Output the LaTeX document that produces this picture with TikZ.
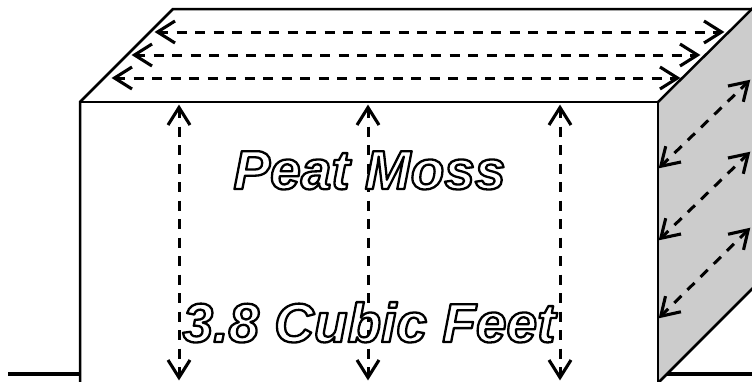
\documentclass[tikz,border=0pt]{standalone}
\usepackage{fontspec}
\setmainfont{Liberation Sans}
\usetikzlibrary{arrows.meta}
\newcommand{\hollowtext}[1]{\special{pdf:code q 2 Tr 2.3 w 0 0 0 RG 1 1 1 rg 1 j}#1\special{pdf:code Q}}
\pgfdeclarearrow{
  name=VeeBarb,
  setup code={
    \pgfarrowssettipend{0pt}
    \pgfarrowssetlineend{-3pt}
    \pgfarrowssetbackend{-20pt}
    \pgfarrowssetvisualbackend{-3pt}
    \pgfarrowshullpoint{0pt}{0pt}
    \pgfarrowshullpoint{-20pt}{11pt}
    \pgfarrowshullpoint{-20pt}{-11pt}
  },
  drawing code={
    \pgfsetdash{}{0pt}
    \pgfsetlinewidth{3.1pt}
    \pgfsetbuttcap
    \pgfsetmiterjoin
    \pgfpathmoveto{\pgfpoint{-20pt}{11pt}}
    \pgfpathlineto{\pgfpoint{-2.5pt}{0pt}}
    \pgfpathlineto{\pgfpoint{-20pt}{-11pt}}
    \pgfusepathqstroke
  },
}
\tikzset{
  x=1pt,y=-1pt,
  edge/.style={draw=black,line width=2.5pt,line join=miter},
  ground/.style={draw=black,line width=4pt},
  measure/.style={draw=black,line width=3pt,dash pattern=on 10pt off 8.5pt,
    {VeeBarb}-{VeeBarb}},
  hollow/.style={font=\fontsize{55}{55}\selectfont\bfseries\itshape,inner sep=0pt,anchor=base},
}
\begin{document}
\begin{tikzpicture}
\path[use as bounding box] (0,0) rectangle (752,381);
\clip (0,0) rectangle (752,381);
% box corners
\coordinate (fl) at (80,102);
\coordinate (fr) at (658,102);
\coordinate (bl) at (173,9);
\coordinate (br) at (752,9);
\coordinate (flb) at (80,383);
\coordinate (frb) at (658,383);
\coordinate (brb) at (754,287);
\coordinate (brt) at (754,7);
\coordinate (gl0) at (8,373.5);
\coordinate (gl1) at (80,373.5);
\coordinate (gr0) at (667,373.5);
\coordinate (gr1) at (752,373.5);
% faces
\path[fill=white] (fl) -- (bl) -- (br) -- (fr) -- cycle;
\path[fill=black!20] (fr) -- (br) -- (brb) -- (frb) -- cycle;
\draw[edge] (flb) -- (fl) -- (bl) -- (br);
\draw[edge] (fl) -- (fr) -- (frb);
\draw[edge] (fr) -- (brt);
\draw[edge] (frb) -- (brb);
\draw[ground] (gl0) -- (gl1);
\draw[ground] (gr0) -- (gr1);
% top arrows
\coordinate (t1a) at (155,32); \coordinate (t1b) at (724,32);
\coordinate (t2a) at (132,55); \coordinate (t2b) at (700,55);
\coordinate (t3a) at (112,78); \coordinate (t3b) at (680,78);
\draw[measure] (t1a) -- (t1b);
\draw[measure] (t2a) -- (t2b);
\draw[measure] (t3a) -- (t3b);
% front arrows
\coordinate (f1a) at (179,105); \coordinate (f1b) at (179,380);
\coordinate (f2a) at (368,105); \coordinate (f2b) at (368,380);
\coordinate (f3a) at (560,105); \coordinate (f3b) at (560,380);
\draw[measure] (f1a) -- (f1b);
\draw[measure] (f2a) -- (f2b);
\draw[measure] (f3a) -- (f3b);
% side arrows
\coordinate (s1a) at (659,168); \coordinate (s1b) at (750,80);
\coordinate (s2a) at (659,240); \coordinate (s2b) at (750,152);
\coordinate (s3a) at (659,318); \coordinate (s3b) at (750,228);
\draw[measure] (s1a) -- (s1b);
\draw[measure] (s2a) -- (s2b);
\draw[measure] (s3a) -- (s3b);
% labels
\node[hollow] (peat) at (369.5,189) {\hollowtext{Peat Moss}};
\node[hollow] (cubic) at (369,342) {\hollowtext{3.8 Cubic Feet}};
\end{tikzpicture}
\end{document}
